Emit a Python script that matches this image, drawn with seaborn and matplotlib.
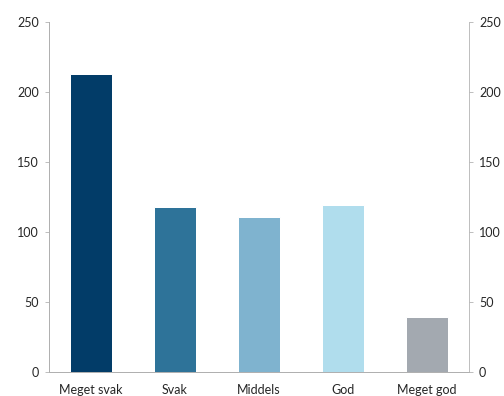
import matplotlib
matplotlib.use("Agg")
import matplotlib.pyplot as plt
import seaborn as sns
import pandas as pd

categories = ["Meget svak", "Svak", "Middels", "God", "Meget god"]
values = [213, 118, 111, 119, 39]
colors = ["#023c68", "#2e7399", "#7fb3cf", "#b0dded", "#a3a9b0"]
yticks = [0, 50, 100, 150, 200, 250]

sns.set_style("white")
plt.rcParams['font.family'] = ['Lato', 'DejaVu Sans']

df = pd.DataFrame({"cat": categories, "val": values})
fig = plt.figure(figsize=(7, 5.5), dpi=72)
ax = fig.add_axes([49/504, 24/396, 420/504, 350/396])
sns.barplot(data=df, x="cat", y="val", hue="cat", palette=colors, width=0.5,
            ax=ax, legend=False, saturation=1)
ax.set_xlim(-0.5, 4.5)
ax.set_ylim(0, 250)
ax.set_yticks(yticks)
ax.set_xlabel("")
ax.set_ylabel("")
spine_c = "#b0b0b0"
for s in ["top", "right"]:
    ax.spines[s].set_visible(False)
for s in ["left", "bottom"]:
    ax.spines[s].set_color(spine_c)
    ax.spines[s].set_linewidth(1)
ax.tick_params(axis="y", left=True, length=4, color=spine_c, labelsize=12.5, pad=6)
ax.tick_params(axis="x", bottom=False, labelsize=12.5, pad=8)

ax2 = ax.twinx()
ax2.set_ylim(0, 250)
ax2.set_yticks(yticks)
for s in ["top", "left", "bottom"]:
    ax2.spines[s].set_visible(False)
ax2.spines["right"].set_color(spine_c)
ax2.tick_params(axis="y", right=True, length=4, color=spine_c, labelsize=12.5, pad=6)

fig.savefig("out.png", dpi=72)
